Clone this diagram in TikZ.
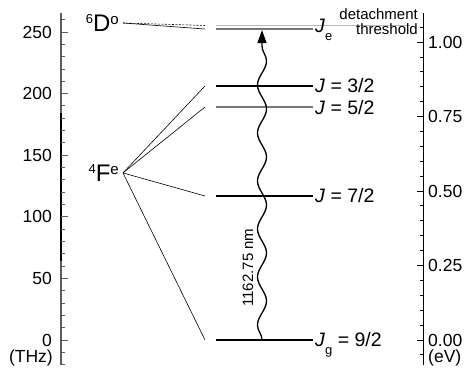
\documentclass[tikz,border=0pt]{standalone}
\usepackage{fontspec}
\setmainfont{Liberation Sans}
\usetikzlibrary{arrows.meta,positioning,decorations.pathmorphing}
\definecolor{axisgray}{HTML}{5C5C5C}
\definecolor{levgray}{HTML}{777777}
\definecolor{thrgray}{HTML}{B8B8B8}

\begin{document}
\begin{tikzpicture}[x=1pt,y=1.232pt,
  tick/.style={line width=0.9pt},
  ticklab/.style={font=\fontsize{17.5}{17.5}\selectfont,inner sep=0pt},
  lev/.style={line width=1.1pt},
  levlab/.style={anchor=base west,inner sep=0pt,font=\fontsize{19.5}{19.5}\selectfont},
  thrlab/.style={anchor=base east,inner sep=0pt,font=\fontsize{15}{15}\selectfont},
  fan/.style={line width=0.6pt},
  term/.style={inner sep=0pt,font=\fontsize{24}{24}\selectfont},
  photon/.style={line width=1.3pt,-{Triangle[length=13pt,width=9pt]},decorate,
    decoration={snake,amplitude=4.5pt,segment length=48pt,post length=14pt}}]
\useasboundingbox (0,-26.79) rectangle (469,275.97);
% left axis, THz
\draw[axisgray,line width=1.3pt] (61,-20.3) -- (61,265.4);
\draw[black,line width=1.6pt] (61,64) -- (61,184);
\foreach \f in {-20,-10,...,260}
  \draw[axisgray,tick] (61,\f) -- (64.5,\f);
\foreach \f in {0,50,...,250}{
  \draw[axisgray,tick] (61,\f) -- (67.5,\f);
  \node[ticklab,anchor=east] (thz\f) at (52,\f) {\f};}
\node[ticklab,anchor=east] (thzunit) at (53,-14.2) {(THz)};
% right axis, eV
\draw[line width=0.9pt] (423,-20.3) -- (423,265.4);
\foreach \i in {-1,...,21}
  \draw[tick] (423,\i*12.09) -- (419.5,\i*12.09);
\foreach \e/\lab in {0/0.00,5/0.25,10/0.50,15/0.75,20/1.00}{
  \draw[tick] (423,\e*12.09) -- (417,\e*12.09);
  \node[ticklab,anchor=west] (ev\e) at (428,\e*12.09) {\lab};}
\node[ticklab,anchor=west] (evunit) at (428,-14.2) {(eV)};
% levels
\coordinate (Fe) at (123,135.6);
\coordinate (Do) at (123,257.3);
\draw[thrgray,lev] (216,255.3) coordinate (thrL) -- (410,255.3) coordinate (thrR);
\draw[levgray,lev] (216,252.4) coordinate (eL) -- (313,252.4) coordinate (eR);
\draw[lev] (216,206.2) coordinate (l32) -- (313,206.2) coordinate (r32);
\draw[levgray,lev] (216,189.1) coordinate (l52) -- (313,189.1) coordinate (r52);
\draw[lev] (216,116.9) coordinate (l72) -- (313,116.9) coordinate (r72);
\draw[lev] (216,0) coordinate (l92) -- (313,0) coordinate (r92);
\node[levlab] (Je) at ([xshift=2pt,yshift=-3pt]eR) {\textit{J}\raisebox{-8pt}{\fontsize{13}{13}\selectfont e}};
\node[levlab] (J32) at ([xshift=2pt,yshift=-7pt]r32) {\textit{J} = 3/2};
\node[levlab] (J52) at ([xshift=2pt,yshift=-7pt]r52) {\textit{J} = 5/2};
\node[levlab] (J72) at ([xshift=2pt,yshift=-7pt]r72) {\textit{J} = 7/2};
\node[levlab] (Jg) at ([xshift=2pt,yshift=-7pt]r92) {\textit{J}\raisebox{-8pt}{\fontsize{13}{13}\selectfont g} = 9/2};
\node[thrlab] (det) at ([xshift=8pt,yshift=5.5pt]thrR) {detachment};
\node[thrlab] (thr) at ([xshift=8pt,yshift=-9.5pt]thrR) {threshold};
% terms
\node[term,left=4pt of Fe] (Fterm) {\raisebox{8.5pt}{\fontsize{13}{13}\selectfont 4}F\raisebox{7.5pt}{\fontsize{15}{15}\selectfont e}};
\node[term,left=4pt of Do] (Dterm) {\raisebox{8.5pt}{\fontsize{13}{13}\selectfont 6}D\raisebox{7.5pt}{\fontsize{15}{15}\selectfont o}};
\foreach \l in {l32,l52,l72,l92}
  \draw[fan] (Fe) -- ([xshift=-11pt]\l);
\draw[fan,dash pattern=on 2pt off 1.5pt] (Do) -- ([xshift=-11pt]thrL);
\draw[fan] (Do) -- ([xshift=-11pt]eL);
% photon
\draw[photon] ([xshift=46pt]l92) -- ([xshift=46pt,yshift=-1pt]eL);
\node[rotate=90,inner sep=0pt,font=\fontsize{15}{15}\selectfont] (wl) at (248,58.8) {1162.75 nm};
\end{tikzpicture}
\end{document}
